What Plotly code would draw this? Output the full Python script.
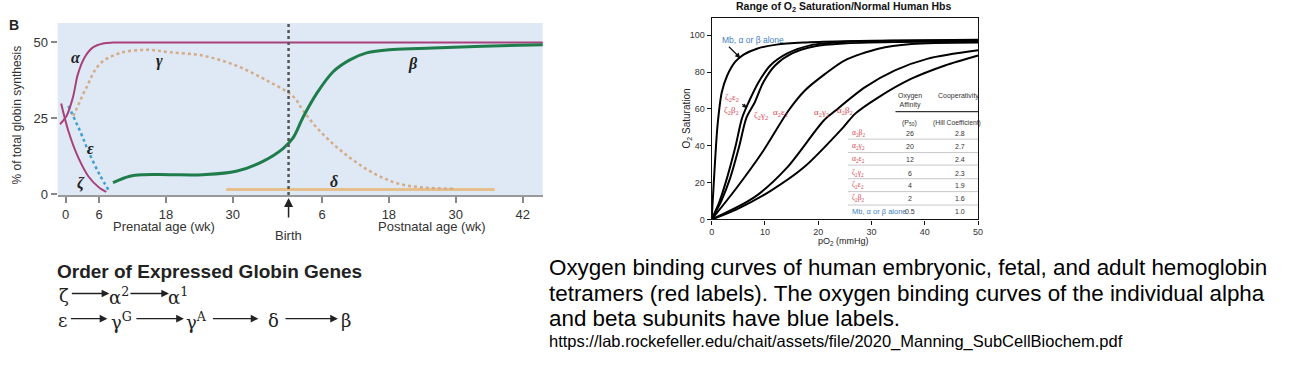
import plotly.graph_objects as go

W = 1316
H_FIG = 397      # layout height (page viewport)
H_REF = 388      # reference picture height used for positioning

# ---------------- Left panel data (weeks; postnatal = 40 + wk) ----------------
birth_week = 40
alpha_x = [-1.0, 0.15, 1.3, 2.2, 3.4, 4.9, 6.7, 8.5, 12, 86]
alpha_y = [23, 25.7, 31.8, 39.5, 45, 48.3, 49.6, 49.9, 49.9, 49.9]
zeta_x = [-0.8, 0.5, 2.3, 4.1, 6.1, 7.3]
zeta_y = [29.8, 20.7, 11.9, 5.8, 2.0, 0.7]
eps_x = [0.5, 2.6, 4.1, 6.1, 7.9]
eps_y = [29, 20.7, 14, 6.4, 0.7]
gamma_x = [1.4, 3.7, 6.1, 9.7, 14.5, 18.7, 24.6, 30.6, 36, 40.8, 42.6, 45, 48, 51, 54, 57, 60, 64, 70]
gamma_y = [25.7, 35, 42.8, 46.4, 47.5, 46.7, 45.6, 42.3, 37.5, 32.2, 27.5, 22, 16.5, 12, 8.2, 5.3, 3.3, 2.2, 1.7]
beta_x = [8.5, 11.5, 14, 18.7, 24.6, 30.6, 35.4, 39, 40.8, 42.6, 45, 48, 51, 54, 58.7, 65.9, 74.8, 86]
beta_y = [3.8, 5.9, 6.4, 6.4, 6.4, 7.5, 10.8, 15, 18.5, 25.3, 33, 40.3, 44.2, 46.5, 47.6, 48.1, 48.7, 49.2]
delta_x = [28.8, 77]
delta_y = [1.5, 1.5]
left_tickvals = [0, 6, 18, 30, 46, 58, 70, 82]
left_ticktext = ["0", "6", "18", "30", "6", "18", "30", "42"]

# ---------------- Right panel data ----------------
mb_x = [0, 0.5, 1.1, 1.9, 2.9, 4.4, 6, 8.5, 12.2, 17.2, 24.7, 35, 50]
mb_y = [0, 25, 51, 69, 78, 85.5, 89.5, 92.7, 94.9, 96, 96.7, 97.2, 97.6]
zeb_x = [0, 1.5, 2.9, 4.5, 5.7, 7.0, 8.8, 11, 14.1, 18.5, 24.7, 35, 50]
zeb_y = [0, 10, 22.7, 40, 55, 64, 74.5, 83.6, 90, 94.5, 96.3, 97, 97.3]
zg_x = [0, 1.8, 3.5, 5.2, 6.5, 8.1, 9.7, 11.9, 15, 19.4, 24.7, 35, 50]
zg_y = [0, 10, 22.7, 40, 55, 63.6, 74.5, 83.6, 90, 94, 95.5, 96.3, 96.7]
ae_x = [0, 4.7, 9.7, 14.4, 17.5, 21.3, 25, 31.3, 37.5, 50]
ae_y = [0, 17.2, 37.3, 59, 70, 79, 86.4, 92.7, 95.2, 96]
ag_x = [0, 7.9, 14.1, 21, 23.2, 28.8, 34.4, 40.6, 50]
ag_y = [0, 11.8, 28, 53.6, 59, 71.8, 80.9, 87.3, 91.8]
ab_x = [0, 4.7, 11, 17.2, 24.7, 26.9, 31.3, 37.5, 43.8, 50]
ab_y = [0, 5.5, 15.4, 28, 50, 57.3, 66.3, 76.4, 83.6, 89]

table_labels = ["α<sub>2</sub>β<sub>2</sub>", "α<sub>2</sub>γ<sub>2</sub>", "α<sub>2</sub>ε<sub>2</sub>",
                "ζ<sub>2</sub>γ<sub>2</sub>", "ζ<sub>2</sub>ε<sub>2</sub>", "ζ<sub>2</sub>β<sub>2</sub>",
                "Mb, α or β alone"]
table_p50 = ["26", "20", "12", "6", "4", "2", "0.5"]
table_hill = ["2.8", "2.7", "2.4", "2.3", "1.9", "1.6", "1.0"]

RED = "#d8464f"
BLUE = "#3f7fc4"
PURPLE = "#a8407a"
GREEN = "#1f7d4c"

fig = go.Figure()

def lt(x, y, color, width, dash="solid"):
    fig.add_trace(go.Scatter(x=x, y=y, mode="lines", xaxis="x", yaxis="y",
                             line=dict(color=color, width=width, dash=dash, shape="spline", smoothing=1.0),
                             hoverinfo="skip", showlegend=False))

lt(delta_x, delta_y, "#e6c08c", 3)
lt(gamma_x, gamma_y, "#d3ad88", 2.5, "dot")
lt(eps_x, eps_y, "#3d9fd0", 2.5, "dot")
lt(zeta_x, zeta_y, PURPLE, 2)
lt(alpha_x, alpha_y, PURPLE, 2)
lt(beta_x, beta_y, GREEN, 3)

def rt(x, y):
    fig.add_trace(go.Scatter(x=x, y=y, mode="lines", xaxis="x2", yaxis="y2",
                             line=dict(color="black", width=2, shape="spline", smoothing=0.8),
                             hoverinfo="skip", showlegend=False))

for xs, ys in [(mb_x, mb_y), (zeb_x, zeb_y), (zg_x, zg_y), (ae_x, ae_y), (ag_x, ag_y), (ab_x, ab_y)]:
    rt(xs, ys)

def px2p(px):
    return px / W

def py2p(py):
    return 1 - py / H_REF

ann = []
shapes = []

# left panel background
shapes.append(dict(type="rect", xref="paper", yref="paper", x0=px2p(55), x1=px2p(543),
                   y0=py2p(196), y1=py2p(23), fillcolor="#dfe8f5", line=dict(width=0), layer="below"))

# --- left panel texts ---
greek = dict(family="Liberation Serif", size=16, color="#222")
for t, x, y in [("α", 1.8, 45), ("γ", 16.9, 43.7), ("β", 62.4, 43), ("δ", 48.1, 4.3), ("ε", 4.4, 15), ("ζ", 2.7, 3.6)]:
    ann.append(dict(text=f"<b><i>{t}</i></b>", x=x, y=y, xref="x", yref="y", showarrow=False, font=greek))

ann.append(dict(text="<b>B</b>", x=px2p(11), y=py2p(25), xref="paper", yref="paper", showarrow=False,
                font=dict(family="Liberation Sans", size=14, color="#222")))
ann.append(dict(text="% of total globin synthesis", x=px2p(14), y=py2p(114), xref="paper", yref="paper",
                showarrow=False, textangle=-90, font=dict(family="Liberation Sans", size=12, color="#333")))
ann.append(dict(text="Prenatal age (wk)", x=px2p(162), y=py2p(225), xref="paper", yref="paper",
                showarrow=False, font=dict(family="Liberation Sans", size=13, color="#333")))
ann.append(dict(text="Postnatal age (wk)", x=px2p(432), y=py2p(225), xref="paper", yref="paper",
                showarrow=False, font=dict(family="Liberation Sans", size=13, color="#333")))
ann.append(dict(text="Birth", x=birth_week, y=py2p(234), xref="x", yref="paper",
                showarrow=False, font=dict(family="Liberation Sans", size=13, color="#333")))
ann.append(dict(text="", x=birth_week, y=py2p(197), xref="x", yref="paper", showarrow=True,
                ax=0, ay=21, arrowhead=2, arrowsize=1.2, arrowwidth=1.5, arrowcolor="#222"))
shapes.append(dict(type="line", xref="x", yref="paper", x0=birth_week, x1=birth_week,
                   y0=py2p(194), y1=py2p(23), line=dict(color="#555", width=2.5, dash="dot")))

# --- order of expressed globin genes ---
ann.append(dict(text="<b>Order of Expressed Globin Genes</b>", x=px2p(52), y=py2p(270), xref="paper", yref="paper",
                xanchor="left", showarrow=False, font=dict(family="Liberation Sans", size=19, color="#222")))
sym = dict(family="DejaVu Serif", size=18, color="#222")
row1_y, row2_y = 294, 319
for t, x, y in [("ζ", 61, row1_y), ("α<sup>2</sup>", 117, row1_y), ("α<sup>1</sup>", 176, row1_y),
                ("ε", 60, row2_y), ("γ<sup>G</sup>", 119, row2_y), ("γ<sup>A</sup>", 195, row2_y),
                ("δ", 272, row2_y), ("β", 345, row2_y)]:
    ann.append(dict(text=t, x=px2p(x), y=py2p(y), xref="paper", yref="paper", showarrow=False, font=sym))
for tail, head, y in [(68, 107, row1_y - 2), (127, 167, row1_y - 2), (67, 105, row2_y - 2), (133, 182, row2_y - 2),
                      (210, 257, row2_y - 2), (283, 337, row2_y - 2)]:
    ann.append(dict(text="", x=px2p(head), y=py2p(y), xref="paper", yref="paper", showarrow=True,
                    ax=tail - head, ay=0, arrowhead=2, arrowsize=1.1, arrowwidth=1.4, arrowcolor="#222"))

# --- right panel texts ---
ann.append(dict(text="<b>Range of O<sub>2</sub> Saturation/Normal Human Hbs</b>", x=px2p(846), y=py2p(7),
                xref="paper", yref="paper", showarrow=False, font=dict(family="Liberation Sans", size=10.5, color="#111")))
ann.append(dict(text="O<sub>2</sub> Saturation", x=px2p(688), y=py2p(118), xref="paper", yref="paper",
                showarrow=False, textangle=-90, font=dict(family="Liberation Sans", size=10, color="#222")))
ann.append(dict(text="pO<sub>2</sub> (mmHg)", x=px2p(846), y=py2p(240), xref="paper", yref="paper",
                showarrow=False, font=dict(family="Liberation Sans", size=9, color="#222")))
redf = dict(family="Liberation Serif", size=9, color=RED)
for t, x, y in [("ζ<sub>2</sub>ε<sub>2</sub>", 3.75, 66.2), ("ζ<sub>2</sub>β<sub>2</sub>", 3.75, 59.1),
                ("ζ<sub>2</sub>γ<sub>2</sub>", 9.2, 56.4), ("α<sub>2</sub>ε<sub>2</sub>", 12.9, 58),
                ("α<sub>2</sub>γ<sub>2</sub>", 20.6, 58), ("α<sub>2</sub>β<sub>2</sub>", 25.1, 59.1)]:
    ann.append(dict(text=t, x=x, y=y, xref="x2", yref="y2", showarrow=False, font=redf))
ann.append(dict(text="Mb, α or β alone", x=1.6, y=97.2, xref="x2", yref="y2", xanchor="left", showarrow=False,
                font=dict(family="Liberation Sans", size=8.5, color=BLUE)))
ann.append(dict(text="", x=5.4, y=87.5, xref="x2", yref="y2", showarrow=True, ax=-13, ay=-13,
                arrowhead=2, arrowsize=0.9, arrowwidth=1.2, arrowcolor="#111"))
ann.append(dict(text="", x=6.6, y=60.5, xref="x2", yref="y2", showarrow=True, ax=-6, ay=-5,
                arrowhead=2, arrowsize=0.8, arrowwidth=1.1, arrowcolor="#111"))

tf = dict(family="Liberation Sans", size=7, color="#333")
ann.append(dict(text="Oxygen<br>Affinity", x=37.2, y=64.6, xref="x2", yref="y2", showarrow=False, font=tf))
ann.append(dict(text="Cooperativity", x=46.3, y=66.9, xref="x2", yref="y2", showarrow=False, font=tf))
ann.append(dict(text="(P<sub>50</sub>)", x=37.2, y=52.2, xref="x2", yref="y2", showarrow=False, font=tf))
ann.append(dict(text="(Hill Coefficient)", x=46.0, y=52.2, xref="x2", yref="y2", showarrow=False,
                font=dict(family="Liberation Sans", size=6.8, color="#333")))
shapes.append(dict(type="line", xref="x2", yref="y2", x0=34.5, x1=50, y0=58.5, y1=58.5,
                   line=dict(color="#333", width=1.2)))
row_y = [46.9, 39.6, 32.7, 25.2, 18.5, 11.4, 4.4]
sep_y = [43.6, 36.3, 29.5, 22.1, 15.1, 7.8]
for i, (lab, p, h) in enumerate(zip(table_labels, table_p50, table_hill)):
    col = BLUE if i == len(table_labels) - 1 else RED
    fam = "Liberation Sans" if i == len(table_labels) - 1 else "Liberation Serif"
    ann.append(dict(text=lab, x=26.0, y=row_y[i], xref="x2", yref="y2", xanchor="left", showarrow=False,
                    font=dict(family=fam, size=7.5, color=col)))
    ann.append(dict(text=p, x=37.3, y=row_y[i], xref="x2", yref="y2", showarrow=False, font=tf))
    ann.append(dict(text=h, x=46.6, y=row_y[i], xref="x2", yref="y2", showarrow=False, font=tf))
for y in sep_y:
    shapes.append(dict(type="line", xref="x2", yref="y2", x0=25.6, x1=50, y0=y, y1=y,
                       line=dict(color="#c8c8c8", width=1)))

# --- caption ---
cap = dict(family="Liberation Sans", size=22.4, color="#000")
for t, y in [("Oxygen binding curves of human embryonic, fetal, and adult hemoglobin", 266),
             ("tetramers (red labels). The oxygen binding curves of the individual alpha", 292),
             ("and beta subunits have blue labels.", 317)]:
    ann.append(dict(text=t, x=px2p(547), y=py2p(y), xref="paper", yref="paper", xanchor="left",
                    showarrow=False, font=cap))
ann.append(dict(text="https://lab.rockefeller.edu/chait/assets/file/2020_Manning_SubCellBiochem.pdf",
                x=px2p(547), y=py2p(340), xref="paper", yref="paper", xanchor="left", showarrow=False,
                font=dict(family="Liberation Sans", size=16.5, color="#000")))

for a in ann:
    a.setdefault("xanchor", "center")
    a.setdefault("yanchor", "middle")

fig.update_layout(
    width=W, height=H_FIG, autosize=False,
    margin=dict(l=0, r=0, t=0, b=0),
    paper_bgcolor="white", plot_bgcolor="rgba(0,0,0,0)",
    showlegend=False,
    xaxis=dict(domain=[55 / W, 543 / W], range=[-1.43, 85.6], anchor="y",
               tickvals=left_tickvals, ticktext=left_ticktext, showgrid=False, zeroline=False,
               showline=True, linecolor="#999", linewidth=2, ticks="outside", ticklen=6,
               tickcolor="#888", tickwidth=1.5,
               tickfont=dict(family="Liberation Sans", size=13, color="#333")),
    yaxis=dict(domain=[py2p(194), py2p(23)], range=[-0.3, 56.3], anchor="x",
               tickvals=[0, 25, 50], showgrid=False, zeroline=False, showline=False,
               ticks="outside", ticklen=6, tickcolor="#888", tickwidth=1.5,
               tickfont=dict(family="Liberation Sans", size=13, color="#333")),
    xaxis2=dict(domain=[713 / W, 981 / W], range=[0, 50], anchor="y2", dtick=10,
                showgrid=False, zeroline=False, showline=True, mirror=True, linecolor="#111",
                linewidth=1.3, ticks="outside", ticklen=4, tickcolor="#111",
                tickfont=dict(family="Liberation Sans", size=9, color="#333")),
    yaxis2=dict(domain=[py2p(218.3), py2p(18)], range=[0, 109.3], anchor="x2",
                tickvals=[0, 20, 40, 60, 80, 100], showgrid=False, zeroline=False, showline=True,
                mirror=True, linecolor="#111", linewidth=1.3, ticks="outside", ticklen=4,
                tickcolor="#111", tickfont=dict(family="Liberation Sans", size=9, color="#333")),
    annotations=ann, shapes=shapes,
)

fig.write_html("out.html")
